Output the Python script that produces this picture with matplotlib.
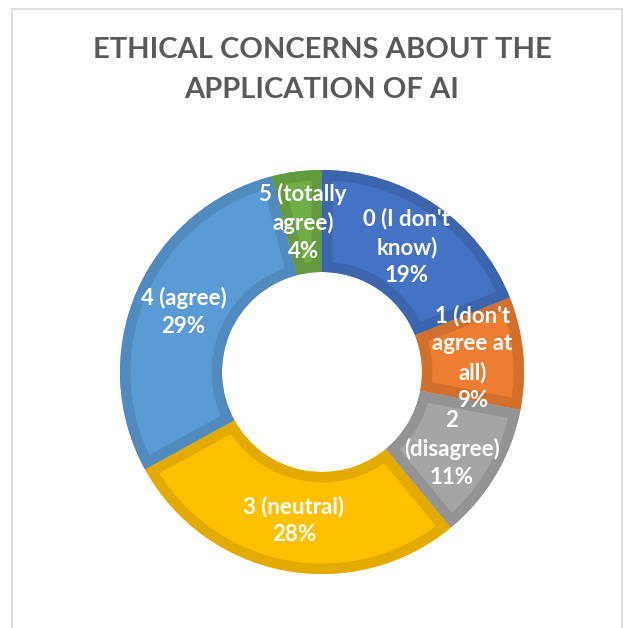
import matplotlib
matplotlib.use("Agg")
import matplotlib.pyplot as plt
from matplotlib.patches import Rectangle, Wedge
import numpy as np

categories = ["0 (I don't\nknow)", "1 (don't\nagree at\nall)", "2\n(disagree)",
              "3 (neutral)", "4 (agree)", "5 (totally\nagree)"]
percentages = [19, 9, 11, 28, 29, 4]
colors = ["#4472C4", "#ED7D31", "#A5A5A5", "#FFC000", "#5B9BD5", "#70AD47"]
title = "ETHICAL CONCERNS ABOUT THE\nAPPLICATION OF AI"

W, H = 633, 628
fig = plt.figure(figsize=(W / 100, H / 100), dpi=100)
ax = fig.add_axes([0, 0, 1, 1])

cx, cy = 322, H - 372
r_out, ring = 202, 102


def darker(c, f=0.89):
    rgb = np.array(matplotlib.colors.to_rgb(c))
    return tuple(rgb * f)


wedges, _ = ax.pie(percentages, colors=colors, startangle=90, counterclock=False,
                   radius=r_out, center=(cx, cy), frame=True,
                   wedgeprops=dict(width=ring, linewidth=0))
ax.set_xlim(0, W)
ax.set_ylim(0, H)
ax.set_aspect("equal")
ax.set_axis_off()

# inner border band of each segment: stroke clipped to the segment itself
for w, c in zip(wedges, colors):
    band = Wedge(w.center, w.r, w.theta1, w.theta2, width=w.width,
                 facecolor="none", edgecolor=darker(c), linewidth=15)
    ax.add_patch(band)
    band.set_clip_path(w)

# chart frame
ax.add_patch(Rectangle((12, -10), 610, H - 9 + 10, fill=False,
                       edgecolor="#D9D9D9", linewidth=1.2))

ax.text(322, H - 70, title, ha="center", va="center", fontsize=21,
        fontweight="bold", color="#595959", family="Lato", linespacing=1.65)

r_mid = r_out - ring / 2
for w, lab, p in zip(wedges, categories, percentages):
    ang = np.deg2rad((w.theta1 + w.theta2) / 2)
    x = cx + r_mid * np.cos(ang)
    y = cy + r_mid * np.sin(ang)
    ax.text(x, y, f"{lab}\n{p}%", ha="center", va="center", color="white",
            fontsize=16, fontweight="bold", family="Lato", linespacing=1.4)

fig.savefig("out.png", dpi=100, facecolor="white")
